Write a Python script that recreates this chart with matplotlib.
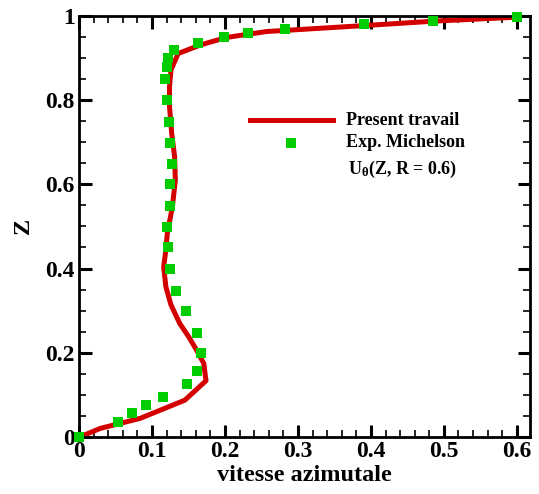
import numpy as np
import matplotlib
matplotlib.use("Agg")
import matplotlib.pyplot as plt
from matplotlib.ticker import MultipleLocator

plt.rcParams['font.family'] = ['Liberation Serif', 'DejaVu Serif']
plt.rcParams['font.weight'] = 'bold'
plt.rcParams['mathtext.fontset'] = 'custom'
plt.rcParams['mathtext.rm'] = 'Liberation Serif:bold'
plt.rcParams['mathtext.it'] = 'Liberation Serif:bold'
plt.rcParams['mathtext.bf'] = 'Liberation Serif:bold'

# --- data: simulation profile (line) ---
u_sim = [0.0, 0.029, 0.084, 0.145, 0.174, 0.171, 0.161, 0.150, 0.138, 0.126,
         0.119, 0.116, 0.119, 0.121, 0.128, 0.132, 0.131, 0.127, 0.124, 0.124,
         0.126, 0.136, 0.166, 0.202, 0.257, 0.399, 0.490, 0.600]
z_sim = [0.0, 0.021, 0.045, 0.088, 0.134, 0.175, 0.207, 0.239, 0.270, 0.314,
         0.357, 0.404, 0.444, 0.484, 0.547, 0.610, 0.665, 0.721, 0.784, 0.831,
         0.871, 0.910, 0.930, 0.948, 0.962, 0.977, 0.987, 0.996]

# --- data: Michelson experiment (squares) ---
u_exp = [0.0, 0.053, 0.073, 0.092, 0.115, 0.148, 0.161, 0.167, 0.161, 0.146,
         0.133, 0.125, 0.122, 0.121, 0.124, 0.124, 0.127, 0.125, 0.123, 0.121,
         0.118, 0.120, 0.122, 0.130, 0.163, 0.198, 0.232, 0.282, 0.391, 0.485,
         0.600]
z_exp = [0.0, 0.036, 0.057, 0.077, 0.096, 0.126, 0.157, 0.199, 0.247, 0.300,
         0.348, 0.399, 0.450, 0.498, 0.548, 0.600, 0.648, 0.698, 0.747, 0.800,
         0.849, 0.879, 0.899, 0.918, 0.936, 0.948, 0.958, 0.967, 0.980, 0.987,
         0.996]

red = '#d40000'
green = '#00cc00'

fig = plt.figure(figsize=(5.39, 4.94), dpi=100)
ax = fig.add_axes([0.1466, 0.1148, 0.8367, 0.8538])

ax.plot(u_sim, z_sim, color=red, linewidth=3.6, zorder=2)
ax.plot(u_exp, z_exp, linestyle='none', marker='s', markersize=7.5,
        color=green, markeredgewidth=0, zorder=3, clip_on=False)

# legend drawn by hand in data coordinates
ax.plot([0.234, 0.348], [0.752, 0.752], color=red, linewidth=3.6)
ax.plot([0.291], [0.698], linestyle='none', marker='s', markersize=7.5,
        color=green, markeredgewidth=0)
ax.text(0.366, 0.752, 'Present travail', fontsize=13, fontweight='bold', va='center')
ax.text(0.366, 0.698, 'Exp. Michelson', fontsize=13, fontweight='bold', va='center')
ax.text(0.368, 0.636, r'U$_{\theta}$(Z, R = 0.6)', fontsize=13, fontweight='bold', va='center')

ax.set_xlim(0, 0.618)
ax.set_ylim(0, 1)
ax.xaxis.set_minor_locator(MultipleLocator(0.02))
ax.yaxis.set_minor_locator(MultipleLocator(0.05))
ax.set_xticks(np.arange(0, 0.61, 0.1))
ax.set_xticklabels(['0', '0.1', '0.2', '0.3', '0.4', '0.5', '0.6'])
ax.set_yticks(np.arange(0, 1.01, 0.2))
ax.set_yticklabels(['0', '0.2', '0.4', '0.6', '0.8', '1'])

ax.tick_params(which='both', direction='in', top=True, right=True,
               labelsize=17)
ax.tick_params(which='major', length=9, width=2.2, pad=3)
ax.tick_params(which='minor', length=5, width=1.2)
for s in ax.spines.values():
    s.set_linewidth(2)

ax.set_xlabel('vitesse azimutale', fontsize=17.5, fontweight='bold', labelpad=2)
ax.set_ylabel('Z', fontsize=17.5, fontweight='bold', labelpad=8)

plt.savefig('out.png', dpi=100)
